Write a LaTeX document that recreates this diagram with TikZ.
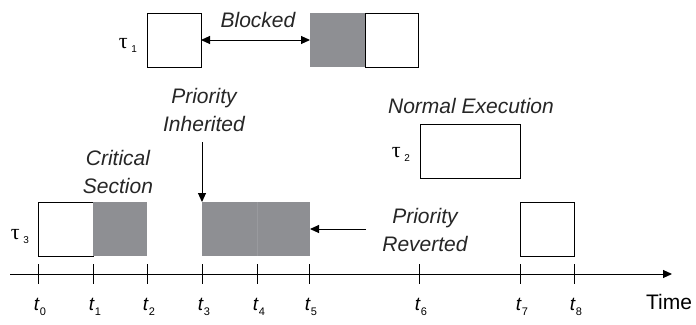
\documentclass[tikz,border=0pt]{standalone}
\usepackage{fontspec}
\setmainfont{Liberation Sans}
\newfontfamily\serifgreek{Liberation Serif}
\usetikzlibrary{arrows.meta}
\definecolor{busy}{RGB}{142,143,147}
\tikzset{
  wbox/.style={draw=black,fill=white,line width=1pt,inner sep=0pt,outer sep=0pt,anchor=north west,minimum height=54pt},
  gbox/.style={fill=busy,inner sep=0pt,outer sep=0pt,anchor=north west,minimum height=54pt},
  lbl/.style={font=\fontsize{21}{27.5}\selectfont\itshape,align=center,inner sep=0pt,text=black!85},
  tasklbl/.style={font=\fontsize{22}{24}\selectfont,inner sep=0pt},
  tlbl/.style={font=\fontsize{19}{20}\selectfont,inner sep=0pt},
  arr/.style={line width=1pt,-{Triangle[length=9pt,width=8pt]}},
  tick/.style={line width=1pt}
}
\newcommand{\tsub}[1]{\textit{t}\raisebox{-5pt}{\fontsize{11}{12}\selectfont #1}}
\newcommand{\mytask}[1]{{\serifgreek τ}\,\raisebox{-4pt}{\fontsize{10}{12}\selectfont #1}}
\begin{document}
\begin{tikzpicture}[x=1pt,y=-1pt]
\useasboundingbox (0,0) rectangle (696,324);
% tau 1
\node[tasklbl] (l1) at (128,45) {\mytask{1}};
\node[wbox,minimum width=54pt] (a1) at (147,13) {};
\node[gbox,minimum width=55pt] (a2) at (310,13) {};
\node[wbox,minimum width=53pt] (a3) at (365,13) {};
\draw[arr,{Triangle[length=9pt,width=8pt]}-{Triangle[length=9pt,width=8pt]}] (a1.east) -- (a2.west);
\node[lbl] (blk) at (258,20) {Blocked};
% tau 2
\node[lbl] (ne) at (471,106) {Normal Execution};
\node[tasklbl] (l2) at (401,154) {\mytask{2}};
\node[wbox,minimum width=100pt] (b1) at (420,124) {};
% tau 3
\node[tasklbl] (l3) at (20,236) {\mytask{3}};
\node[wbox,minimum width=55pt] (c1) at (38,202) {};
\node[gbox,minimum width=54pt] (c2) at (93,202) {};
\node[gbox,minimum width=55pt] (c3) at (202,202) {};
\node[gbox,minimum width=53pt] (c4) at (257,202) {};
\draw[busy!90!white,line width=0.5pt] (c4.north west) -- (c4.south west);
\node[wbox,minimum width=54pt] (c5) at (520,202) {};
% labels
\node[lbl] (pi) at (204,110) {Priority\\Inherited};
\coordinate (pis) at (202,142);
\draw[arr] (pis) -- (c3.north west);
\node[lbl] (cs) at (118,172) {Critical\\Section};
\node[lbl] (pr) at (425,230) {Priority\\Reverted};
\coordinate (prs) at (366,229);
\draw[arr] (prs) -- (c4.east);
% axis
\coordinate (ax0) at (10,274);
\coordinate (ax1) at (672,274);
\draw[arr] (ax0) -- (ax1);
\foreach \x/\i in {38/0,93/1,147/2,202/3,257/4,309/5,419/6,520/7,574/8}{
  \draw[tick] (\x,264) -- (\x,284);
  \node[tlbl,anchor=base] (t\i) at (\x+2,310) {\tsub{\i}};
}
\node[font=\fontsize{21}{22}\selectfont,inner sep=0pt,anchor=base] (time) at (669,309) {Time};
\end{tikzpicture}
\end{document}
